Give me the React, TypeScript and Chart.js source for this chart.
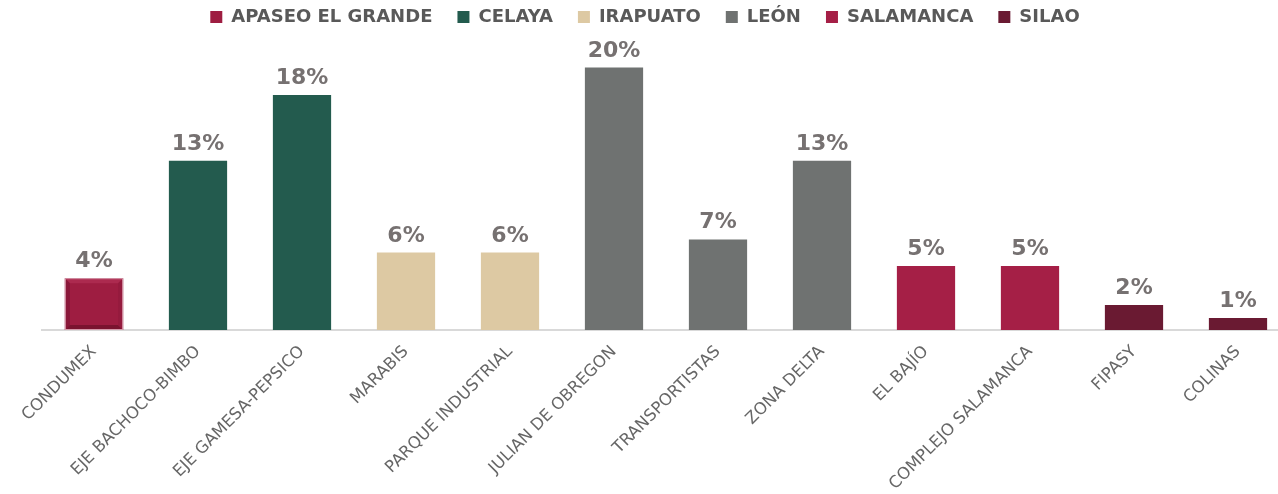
import React, { useEffect, useRef } from "react";
import { Chart, registerables } from "chart.js";

Chart.register(...registerables);

const categories = [
  "CONDUMEX",
  "EJE BACHOCO-BIMBO",
  "EJE GAMESA-PEPSICO",
  "MARABIS",
  "PARQUE INDUSTRIAL",
  "JULIAN DE OBREGON",
  "TRANSPORTISTAS",
  "ZONA DELTA",
  "EL BAJÍO",
  "COMPLEJO SALAMANCA",
  "FIPASY",
  "COLINAS",
];

const apaseo = [3.95, null, null, null, null, null, null, null, null, null, null, null];
const celaya = [null, 12.9, 17.9, null, null, null, null, null, null, null, null, null];
const irapuato = [null, null, null, 5.9, 5.9, null, null, null, null, null, null, null];
const leon = [null, null, null, null, null, 20.0, 6.9, 12.9, null, null, null, null];
const salamanca = [null, null, null, null, null, null, null, null, 4.87, 4.87, null, null];
const silao = [null, null, null, null, null, null, null, null, null, null, 1.9, 0.91];

const seriesNames = ["APASEO EL GRANDE", "CELAYA", "IRAPUATO", "LEÓN", "SALAMANCA", "SILAO"];
const seriesColors = ["#9E1D41", "#235B4E", "#DDC9A3", "#6F7271", "#A51F46", "#6A1A32"];
const seriesData = [apaseo, celaya, irapuato, leon, salamanca, silao];

const FONT = "'DejaVu Sans', sans-serif";

const valueLabels = {
  id: "valueLabels",
  afterDatasetsDraw(chart: any) {
    const ctx = chart.ctx;
    ctx.save();
    ctx.font = `bold 22px ${FONT}`;
    ctx.fillStyle = "#767171";
    ctx.textAlign = "center";
    ctx.textBaseline = "alphabetic";
    chart.data.datasets.forEach((ds: any, di: number) => {
      const meta = chart.getDatasetMeta(di);
      meta.data.forEach((el: any, i: number) => {
        const v = ds.data[i];
        if (v === null || v === undefined) return;
        ctx.fillText(Math.round(v) + "%", el.x, el.y - 11);
      });
    });
    ctx.restore();
  },
};

const bevel = {
  id: "bevel",
  afterDatasetsDraw(chart: any) {
    const meta = chart.getDatasetMeta(0);
    const el: any = meta.data[0];
    if (!el) return;
    const ctx = chart.ctx;
    const l = el.x - el.width / 2;
    const r = el.x + el.width / 2;
    const t = el.y;
    const b = el.base;
    const d = 5;
    ctx.save();
    const poly = (pts: number[][], color: string) => {
      ctx.beginPath();
      ctx.moveTo(pts[0][0], pts[0][1]);
      for (let k = 1; k < pts.length; k++) ctx.lineTo(pts[k][0], pts[k][1]);
      ctx.closePath();
      ctx.fillStyle = color;
      ctx.fill();
    };
    poly([[l, t], [r, t], [r - d, t + d], [l + d, t + d]], "#AC2A4F");
    poly([[l, t], [l + d, t + d], [l + d, b - d], [l, b]], "#8A1739");
    poly([[l, b], [l + d, b - d], [r - d, b - d], [r, b]], "#7A132F");
    poly([[r, t], [r, b], [r - d, b - d], [r - d, t + d]], "#951B3E");
    ctx.strokeStyle = "#D59AAA";
    ctx.lineWidth = 1;
    ctx.strokeRect(l + 0.5, t + 0.5, r - l - 1, b - t - 1);
    ctx.restore();
  },
};

export default function App() {
  const ref = useRef<HTMLCanvasElement>(null);
  useEffect(() => {
    if (!ref.current) return;
    const chart = new Chart(ref.current, {
      type: "bar",
      data: {
        labels: categories,
        datasets: seriesData.map((d, i) => ({
          label: seriesNames[i],
          data: d,
          backgroundColor: seriesColors[i],
          borderWidth: 0,
          barPercentage: 0.56,
          categoryPercentage: 1,
        })),
      },
      options: {
        responsive: false,
        animation: false,
        layout: { padding: { left: 0, right: 0, top: 0, bottom: 0 } },
        plugins: {
          tooltip: { enabled: false },
          legend: {
            position: "top",
            labels: {
              boxWidth: 12,
              boxHeight: 12,
              padding: 8,
              color: "#595959",
              font: { family: FONT, size: 18, weight: "bold" },
              generateLabels(chart: any) {
                const n = chart.data.datasets.length;
                return chart.data.datasets.map((ds: any, i: number) => ({
                  text: ds.label + (i < n - 1 ? "\u00a0\u00a0\u2005" : ""),
                  fillStyle: ds.backgroundColor,
                  strokeStyle: ds.backgroundColor,
                  lineWidth: 0,
                  hidden: false,
                  datasetIndex: i,
                  fontColor: "#595959",
                }));
              },
            },
          },
        },
        scales: {
          x: {
            stacked: true,
            grid: { display: false },
            border: { display: true, color: "#D9D9D9", width: 2 },
            afterFit(scale: any) {
              scale.height = 164;
            },
            ticks: {
              color: "#666666",
              font: { family: FONT, size: 16.5 },
              minRotation: 45,
              maxRotation: 45,
              autoSkip: false,
              padding: 4,
            },
          },
          y: {
            stacked: true,
            display: true,
            min: 0,
            max: 22.4,
            grid: { display: false },
            border: { display: false },
            ticks: { display: false },
            afterFit(scale: any) {
              scale.width = 42;
            },
          },
        },
      },
      plugins: [valueLabels, bevel],
    });
    return () => chart.destroy();
  }, []);
  return (
    <div style={{ position: "fixed", left: 0, top: 0, width: 1278, height: 494, overflow: "hidden", background: "#fff" }}>
      <canvas ref={ref} width={1290} height={494} />
    </div>
  );
}
